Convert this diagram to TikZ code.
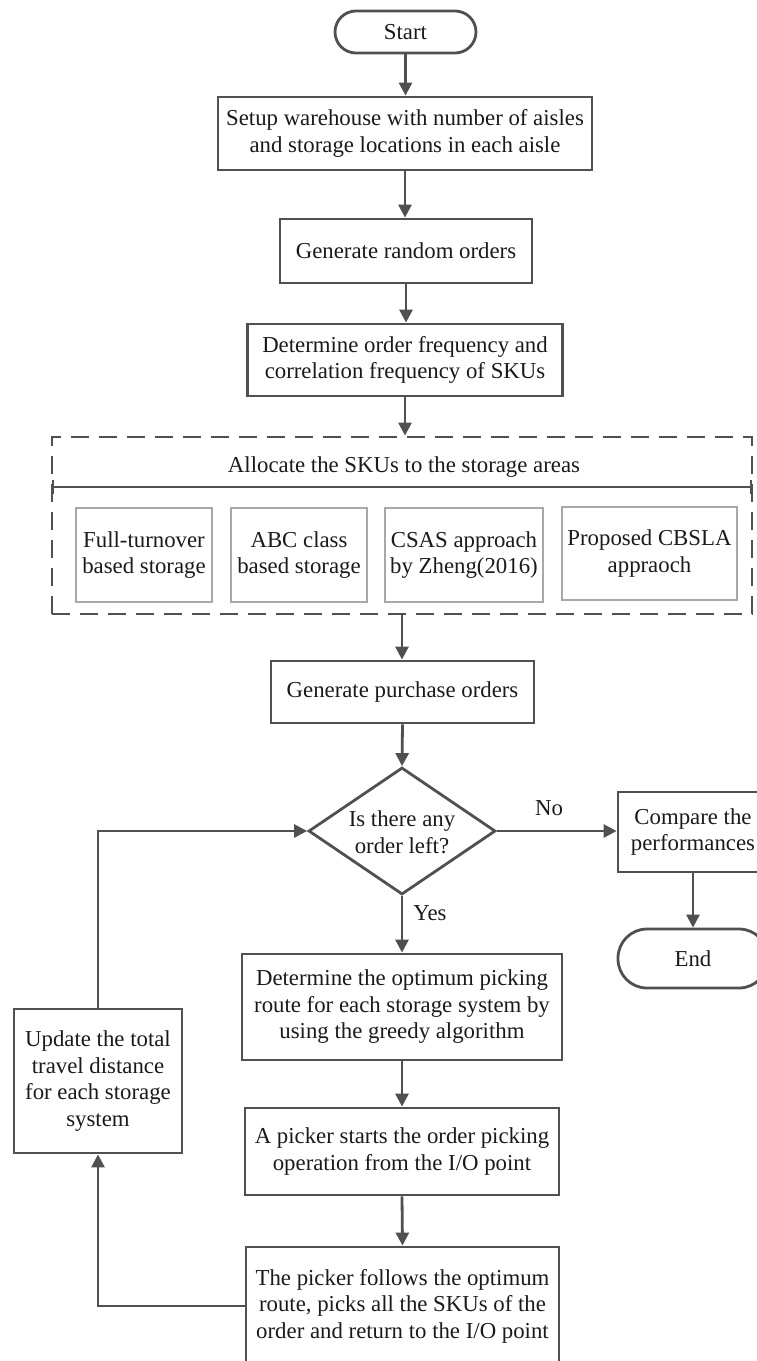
\documentclass[tikz,border=0pt]{standalone}
\usepackage{fontspec}
\setmainfont{Liberation Serif}
\usetikzlibrary{arrows.meta,shapes.geometric}
\definecolor{ln}{HTML}{505050}
\definecolor{tx}{HTML}{1A1A1A}
\definecolor{thinln}{HTML}{A8A8A8}
\begin{document}
\begin{tikzpicture}[x=1pt,y=-1pt,
  font=\fontsize{22.8}{26.5}\selectfont, text=tx,
  box/.style={draw=ln,line width=2.8pt,align=center,inner sep=0pt},
  pill/.style={box,rounded corners=#1},
  inbox/.style={draw=thinln,line width=1.1pt,align=center,inner sep=0pt,minimum height=94},
  arr/.style={draw=ln,line width=2.8pt,-{Triangle[length=13pt,width=13pt]}},
  lbl/.style={inner sep=0pt}]
\useasboundingbox (0,0) rectangle (757,1361);

\node[pill=21pt,minimum width=141,minimum height=42] (start) at (405.5,32) {Start};
\node[box,minimum width=374,minimum height=73] (b1) at (405,133.5) {Setup warehouse with number of aisles\\and storage locations in each aisle};
\node[box,minimum width=252,minimum height=64] (b2) at (406,251) {Generate random orders};
\node[box,minimum width=315,minimum height=72] (b3) at (405,360) {Determine order frequency and\\correlation frequency of SKUs};

\node[draw=ln,line width=2.8pt,dash pattern=on 18pt off 10pt,minimum width=700,minimum height=177,inner sep=0pt] (alloc) at (402,525.5) {};
\node[lbl] (alloct) at (404,467) {Allocate the SKUs to the storage areas};
\coordinate (sepL) at (52,487);
\coordinate (sepR) at (752,487);
\draw[ln,line width=2.4pt,{Bar[width=14pt]}-{Bar[width=14pt]}] (sepL) -- (sepR);
\node[inbox,minimum width=136] (i1) at (144,555) {Full-turnover\\based storage};
\node[inbox,minimum width=136] (i2) at (299,555) {ABC class\\based storage};
\node[inbox,minimum width=158] (i3) at (464,555) {CSAS approach\\by Zheng(2016)};
\node[inbox,minimum width=175,minimum height=93] (i4) at (649.5,553.5) {Proposed CBSLA\\appraoch};

\node[box,minimum width=263,minimum height=62] (b5) at (402.5,692) {Generate purchase orders};
\node[draw=ln,line width=2.8pt,diamond,minimum width=187,minimum height=127,inner sep=0pt] (dec) at (402,831) {};
\node[lbl,align=center] (dect) at (402,832) {Is there any\\order left?};
\node[box,minimum width=150,minimum height=80] (cmp) at (693,832) {Compare the\\performances};
\node[pill=29pt,minimum width=150,minimum height=59] (end) at (693,958.5) {End};
\node[box,minimum width=320,minimum height=106] (b6) at (402,1007) {Determine the optimum picking\\route for each storage system by\\using the greedy algorithm};
\node[box,minimum width=314,minimum height=87] (b7) at (402,1151.5) {A picker starts the order picking\\operation from the I/O point};
\node[box,minimum width=313,minimum height=118] (b8) at (402.5,1306) {The picker follows the optimum\\route, picks all the SKUs of the\\order and return to the I/O point};
\node[box,minimum width=168,minimum height=144] (upd) at (98,1081) {Update the total\\travel distance\\for each storage\\system};

\node[lbl] (nolbl) at (549,808) {No};
\node[lbl] (yeslbl) at (430,913) {Yes};

\draw[arr] (start.south) -- (start.south |- b1.north);
\draw[arr] (b1.south) -- (b1.south |- b2.north);
\draw[arr] (b2.south) -- (b2.south |- b3.north);
\draw[arr] (b3.south) -- (b3.south |- alloc.north);
\draw[arr] (alloc.south) -- (alloc.south |- b5.north);
\draw[arr] (b5.south) -- (dec.north);
\draw[arr] (dec.east) -- (dec.east -| cmp.west);
\draw[arr] (cmp.south) -- (end.north);
\draw[arr] (dec.south) -- (b6.north);
\draw[arr] (b6.south) -- (b7.north);
\draw[arr] (b7.south) -- (b8.north);
\draw[arr] (b8.west) -| (upd.south);
\draw[arr] (upd.north) |- (dec.west);
\end{tikzpicture}
\end{document}
